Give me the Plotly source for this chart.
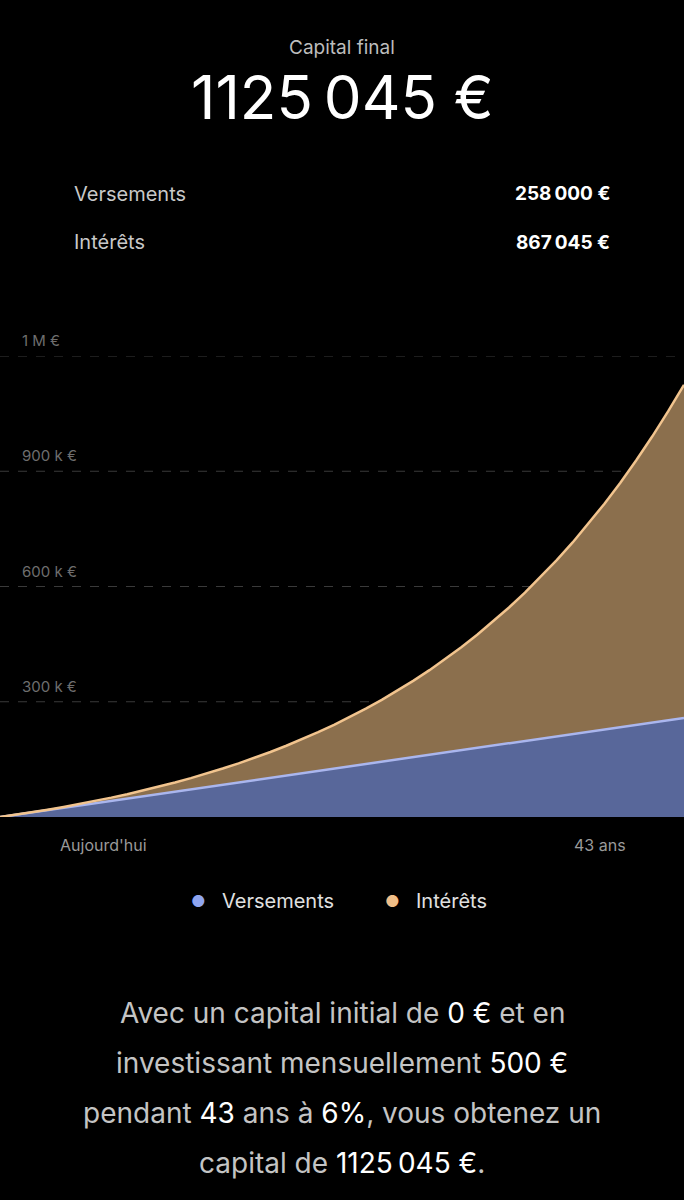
import plotly.graph_objects as go

years = list(range(0, 44))
versements = [6000 * y for y in years]
total = [0, 6000, 12360, 19102, 26248, 33822, 41852, 50363, 59385, 68948, 79085,
         89830, 101220, 113293, 126091, 139656, 154035, 169277, 185434, 202560, 220714,
         239957, 260354, 281975, 304894, 329187, 354938, 382234, 411168, 441838, 474349,
         508810, 545339, 584059, 625103, 668609, 714725, 763609, 815425, 870351, 928572,
         990286, 1055703, 1125045]
tick_vals = [300000, 600000, 900000, 1200000]
tick_text = ["300 k €", "600 k €", "900 k €", "1 M €"]

W, H = 684, 1200
def py(p): return 1 - p / H
def px(p): return p / W

fig = go.Figure()
fig.add_trace(go.Scatter(x=years, y=versements, mode="lines", line=dict(color="#aab6ee", width=2.5),
                         fill="tozeroy", fillcolor="#58679a", hoverinfo="skip", showlegend=False))
fig.add_trace(go.Scatter(x=years, y=total, mode="lines", line=dict(color="#f2c48e", width=2.5),
                         fill="tonexty", fillcolor="#8b6f4d", hoverinfo="skip", showlegend=False))

for v in tick_vals:
    fig.add_shape(type="line", xref="paper", yref="y", x0=0, x1=1, y0=v, y1=v,
                  line=dict(color="#3a3a3a", width=1, dash="dash"), layer="below")

ann = []
for v, t in zip(tick_vals, tick_text):
    ann.append(dict(x=px(20), y=v, xref="paper", yref="y", text=t, showarrow=False,
                    xanchor="left", yanchor="bottom", yshift=4,
                    font=dict(color="#6e6e6e", size=15, family="Inter")))

def txt(x, y, t, size, color, anchor="center", family="Inter"):
    ann.append(dict(x=px(x), y=py(y), xref="paper", yref="paper", text=t, showarrow=False,
                    xanchor=anchor, yanchor="middle", font=dict(color=color, size=size, family=family)))

txt(342, 47, "Capital final", 19, "#bdbdbd")
txt(342, 97, "1125\u202f045 €", 60, "#ffffff")
txt(72, 194, "Versements", 20, "#c8c8c8", "left")
txt(72, 242, "Intérêts", 20, "#c8c8c8", "left")
txt(612, 194, "<b>258\u202f000 €</b>", 19, "#ffffff", "right")
txt(612, 242, "<b>867\u202f045 €</b>", 19, "#ffffff", "right")
txt(103, 845, "Aujourd'hui", 16, "#9a9a9a")
txt(600, 845, "43 ans", 16, "#9a9a9a")
txt(198, 901, "●", 16, "#8fa5f0")
txt(220, 901, "Versements", 20, "#e0e0e0", "left")
txt(392, 901, "●", 16, "#f0be88")
txt(414, 901, "Intérêts", 20, "#e0e0e0", "left")

g = "#c4c4c4"; w = "#ffffff"
def s(t, c): return f"<span style='color:{c}'>{t}</span>"
lines = [
    s("Avec un capital initial de ", g) + s("0 €", w) + s(" et en", g),
    s("investissant mensuellement ", g) + s("500 €", w),
    s("pendant ", g) + s("43", w) + s(" ans à ", g) + s("6%", w) + s(", vous obtenez un", g),
    s("capital de ", g) + s("1125\u202f045 €", w) + s(".", g),
]
for i, l in enumerate(lines):
    txt(342, 1013 + 50 * i, l, 28, g)

fig.update_layout(
    width=W, height=H, paper_bgcolor="#000000", plot_bgcolor="#000000",
    margin=dict(l=0, r=0, t=0, b=0), showlegend=False, annotations=ann,
    xaxis=dict(range=[0, 43], visible=False, domain=[0, 1]),
    yaxis=dict(range=[0, 1200000], visible=False, domain=[py(817), py(356)]),
)
fig.write_html("out.html", config={"displayModeBar": False},
               post_script="document.body.style.margin='0';document.body.style.background='#000';document.body.style.overflow='hidden';")
